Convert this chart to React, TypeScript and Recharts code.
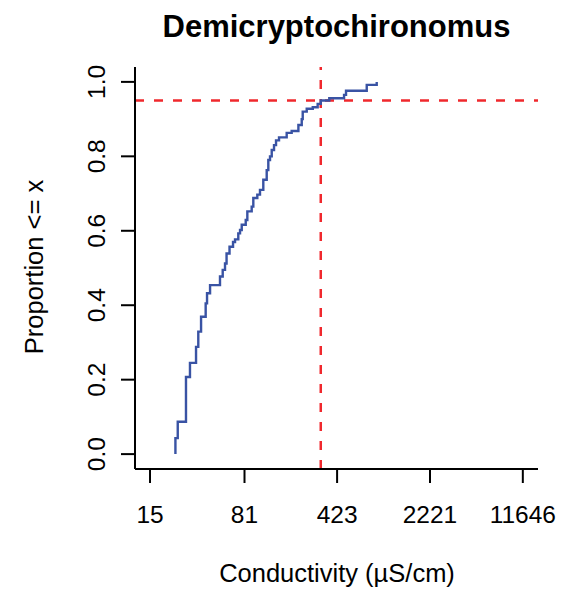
import { LineChart, Line, XAxis, YAxis, ReferenceLine } from 'recharts';

// ECDF of conductivity for the taxon
const conductivity = [
  23.6, 23.6, 24.6, 28.5, 30.6, 34.1, 35.5, 37.3, 40.5, 41.5,
  43.8, 52.3, 54.9, 57.2, 58.8, 62.0, 66.0, 68.4, 72.5, 74.8,
  77.1, 82.8, 85.2, 92.1, 94.8, 101.8, 106.8, 113.3, 120.4, 123.9,
  127.7, 131.7, 137.2, 142.2, 150, 172, 188, 212, 225, 229,
  246, 274, 299, 316, 368, 479, 496, 718, 858,
];
const proportion = [
  0, 0.043, 0.087, 0.207, 0.245, 0.288, 0.329, 0.369, 0.405, 0.432,
  0.454, 0.477, 0.495, 0.512, 0.539, 0.557, 0.57, 0.577, 0.593, 0.602,
  0.616, 0.629, 0.652, 0.665, 0.688, 0.697, 0.71, 0.737, 0.763, 0.79,
  0.8, 0.817, 0.83, 0.843, 0.851, 0.863, 0.868, 0.884, 0.9, 0.92,
  0.928, 0.932, 0.941, 0.95, 0.956, 0.965, 0.976, 0.992, 1.0,
];
const xTicks = [15, 81, 423, 2221, 11646];
const yTicks = [0, 0.2, 0.4, 0.6, 0.8, 1.0];
const xDomain = [11.47, 15270];
const yDomain = [-0.04, 1.04];
const q95 = 316;
const p95 = 0.95;

const title = 'Demicryptochironomus';
const xLabel = 'Conductivity (µS/cm)';
const yLabel = 'Proportion <= x';

const data = conductivity.map((c, i) => ({ c, p: proportion[i] }));

const FONT = '"Liberation Sans", Arial, Helvetica, sans-serif';
const RED = '#f0282d';

const YTick = (props: any) => {
  const { y, payload } = props;
  return (
    <text
      x={105}
      y={y}
      transform={`rotate(-90, 105, ${y})`}
      textAnchor="middle"
      fontSize={24.5}
      fontFamily={FONT}
      fill="#000"
    >
      {payload.value.toFixed(1)}
    </text>
  );
};

export default function App() {
  return (
    <div style={{ position: 'absolute', left: 0, top: 0, width: 563, height: 591, background: '#fff' }}>
      <LineChart
        width={563}
        height={591}
        data={data}
        margin={{ top: 67, right: 25, left: 75, bottom: 92 }}
      >
        <XAxis
          dataKey="c"
          type="number"
          scale="log"
          domain={xDomain}
          ticks={xTicks}
          allowDataOverflow
          height={30}
          tickSize={14}
          tickMargin={23}
          interval={0}
          stroke="#000"
          strokeWidth={2}
          tick={{ fontSize: 24.5, fill: '#000', fontFamily: FONT }}
        />
        <YAxis
          type="number"
          domain={yDomain}
          ticks={yTicks}
          allowDataOverflow
          width={60}
          tickSize={14}
          interval={0}
          stroke="#000"
          strokeWidth={2}
          tick={<YTick />}
        />
        <ReferenceLine y={p95} stroke={RED} strokeWidth={2.5} strokeDasharray="9 10" />
        <ReferenceLine x={q95} stroke={RED} strokeWidth={2.5} strokeDasharray="9 10" />
        <Line
          dataKey="p"
          type="stepAfter"
          stroke="#3953a4"
          strokeWidth={2.4}
          dot={false}
          activeDot={false}
          isAnimationActive={false}
        />
      </LineChart>
      <svg
        width={563}
        height={591}
        style={{ position: 'absolute', left: 0, top: 0, pointerEvents: 'none' }}
      >
        <text x={336.5} y={37} textAnchor="middle" fontSize={31} fontWeight="bold" fontFamily={FONT} fill="#000">
          {title}
        </text>
        <text x={337} y={582} textAnchor="middle" fontSize={25.5} fontFamily={FONT} fill="#000">
          {xLabel}
        </text>
        <text
          x={43}
          y={267}
          transform="rotate(-90, 43, 267)"
          textAnchor="middle"
          fontSize={25.5}
          fontFamily={FONT}
          fill="#000"
        >
          {yLabel}
        </text>
      </svg>
    </div>
  );
}
